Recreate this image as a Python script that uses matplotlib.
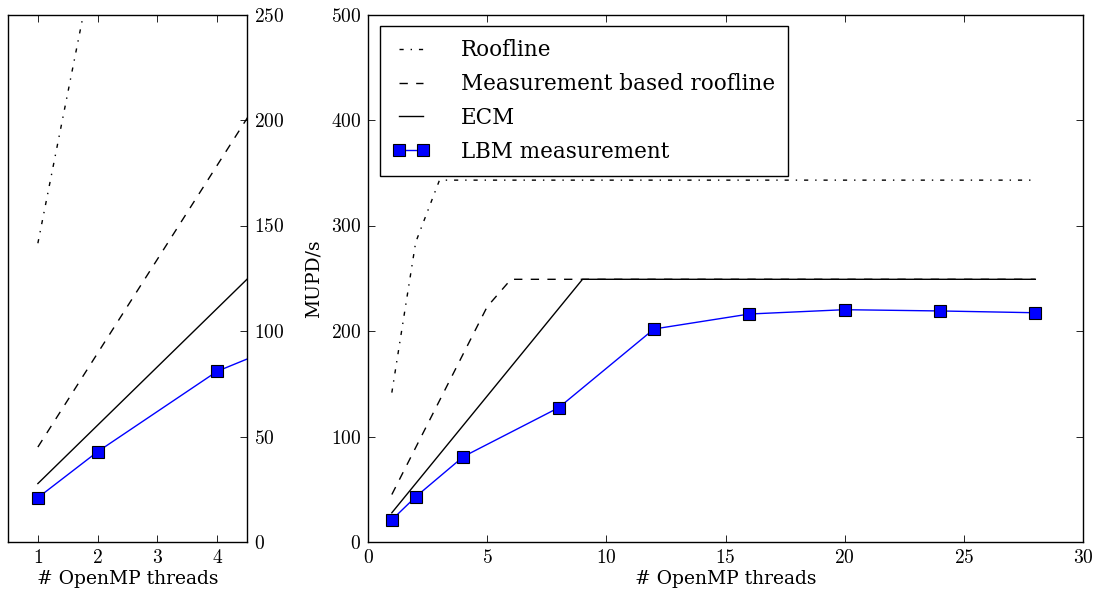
import numpy as np
import matplotlib
matplotlib.use("Agg")
import matplotlib.pyplot as plt

plt.rcParams['font.family'] = ['cmr10', 'DejaVu Serif']
plt.rcParams['mathtext.fontset'] = 'cm'
plt.rcParams['axes.formatter.use_mathtext'] = True
plt.rcParams['lines.dashdot_pattern'] = [3, 5, 1, 5]
plt.rcParams['lines.dashed_pattern'] = [6, 6]
plt.rcParams['lines.scale_dashes'] = False

# ---- data ----
roofline_x = [1, 2, 3, 28]
roofline_y = [141.6, 284.0, 343.0, 343.0]

meas_roof_x = [1, 2, 3, 4, 5, 6, 28]
meas_roof_y = [45.0, 89.5, 134.0, 178.5, 223.0, 249.0, 249.0]

ecm_x = [1, 9, 28]
ecm_y = [27.7, 249.0, 249.0]

lbm_x = [1, 2, 4, 8, 12, 16, 20, 24, 28]
lbm_y = [21.0, 42.8, 80.9, 127.3, 201.9, 216.1, 220.2, 219.0, 217.3]

labels = ['Roofline', 'Measurement based roofline', 'ECM', 'LBM measurement']
xlabel = '# OpenMP threads'
ylabel = 'MUPD/s'

TEXT_FONT = ['DejaVu Serif']

W, H = 1097, 596
fig = plt.figure(figsize=(W / 100, H / 100), dpi=100)
fig.patch.set_facecolor('white')

def frac(x0, y0, x1, y1):
    return [x0 / W, 1 - y1 / H, (x1 - x0) / W, (y1 - y0) / H]

ax1 = fig.add_axes(frac(8, 14.5, 247, 542))
ax2 = fig.add_axes(frac(368, 14.5, 1083, 542))

tick_fs = 14
label_fs = 13.5
for ax in (ax1, ax2):
    ax.plot(roofline_x, roofline_y, color='k', lw=1, ls='-.', label=labels[0])
    ax.plot(meas_roof_x, meas_roof_y, color='k', lw=1, ls='--', label=labels[1])
    ax.plot(ecm_x, ecm_y, color='k', lw=1, ls='-', label=labels[2])
    ax.plot(lbm_x, lbm_y, color='#0000ff', lw=1, marker='s', ms=8,
            mfc='#0000ff', mec='k', mew=0.8, label=labels[3])
    ax.tick_params(direction='in', length=5, width=0.6, labelsize=tick_fs,
                   top=True, right=True, pad=5)
    for s in ax.spines.values():
        s.set_linewidth(1.0)
    ax.set_xlabel(xlabel, fontsize=label_fs, family=TEXT_FONT, labelpad=2)

ax1.set_xlim(0.5, 4.5)
ax1.set_ylim(0, 250)
ax1.set_xticks([1, 2, 3, 4])
ax1.set_yticks([0, 50, 100, 150, 200, 250])
ax1.yaxis.tick_right()
ax1.tick_params(axis='y', left=False, right=True, labelleft=False, labelright=True)

ax2.set_xlim(0, 30)
ax2.set_ylim(0, 500)
ax2.set_xticks([0, 5, 10, 15, 20, 25, 30])
ax2.set_yticks([0, 100, 200, 300, 400, 500])
ax2.set_ylabel(ylabel, fontsize=label_fs, family=TEXT_FONT, labelpad=6)

leg = ax2.legend(loc='upper left', prop={'family': TEXT_FONT, 'size': 15.5},
                 numpoints=2, fancybox=False,
                 framealpha=1, edgecolor='k', handlelength=1.7, handletextpad=1.45,
                 labelspacing=0.55, borderaxespad=0.55, borderpad=0.6)
leg.get_frame().set_linewidth(1.0)

fig.savefig('out.png', dpi=100, facecolor='white')
